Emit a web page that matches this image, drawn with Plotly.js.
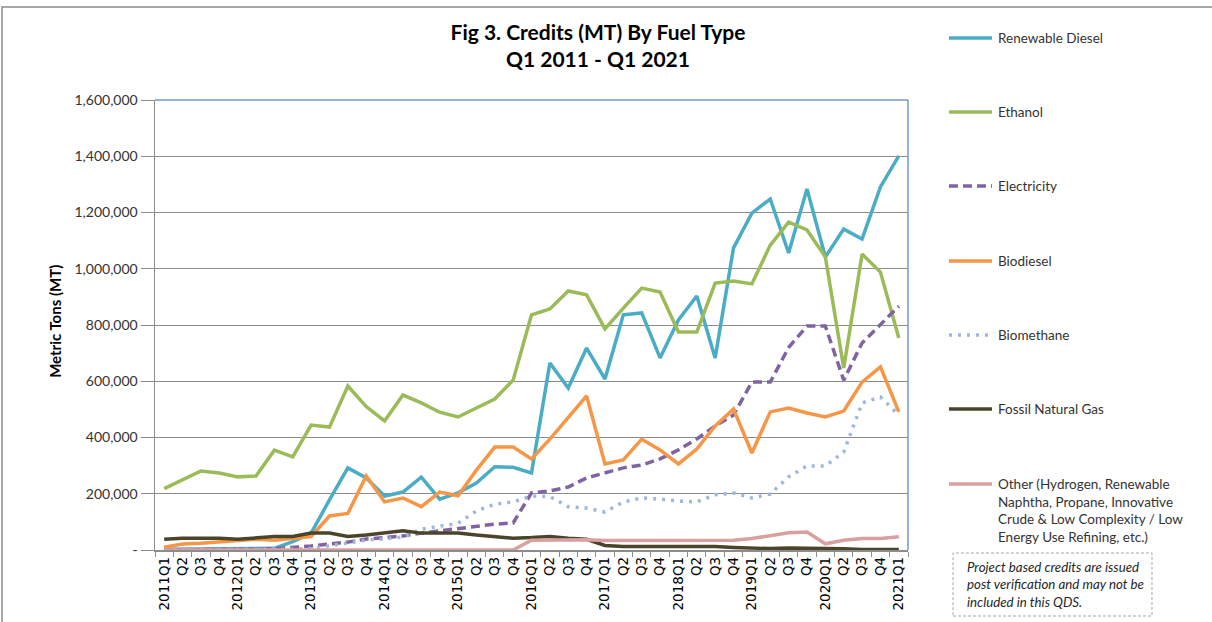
<!DOCTYPE html>
<html>
<head>
<meta charset="utf-8">
<script src="https://cdn.plot.ly/plotly-3.0.1.min.js"></script>
<style>html,body{margin:0;padding:0;background:#fff;}#chart{width:1212px;height:622px;}</style>
</head>
<body>
<div id="chart"></div>
<script>
const quarters = ["2011Q1","Q2","Q3","Q4","2012Q1","Q2","Q3","Q4","2013Q1","Q2","Q3","Q4","2014Q1","Q2","Q3","Q4","2015Q1","Q2","Q3","Q4","2016Q1","Q2","Q3","Q4","2017Q1","Q2","Q3","Q4","2018Q1","Q2","Q3","Q4","2019Q1","Q2","Q3","Q4","2020Q1","Q2","Q3","Q4","2021Q1"];

// values in thousands of metric tons
const renewableDiesel = [3,3,3,3,4,4,6,30,60,178,292,256,192,206,259,181,203,238,296,294,274,665,576,718,608,836,843,683,818,903,683,1074,1198,1248,1056,1284,1042,1141,1106,1291,1401];
const ethanol = [218,249,281,274,260,263,355,331,444,437,583,510,459,551,523,490,473,505,537,604,836,857,921,907,786,860,931,917,775,775,949,956,946,1084,1166,1138,1042,647,1052,988,754];
const electricity = [0,0,1,1,2,3,5,9,14,21,28,39,43,50,60,68,74,81,92,96,203,210,224,256,274,292,302,324,356,395,441,480,597,597,720,796,796,604,736,800,867];
const biodiesel = [10,21,24,28,35,38,35,42,48,121,130,263,171,185,154,206,193,284,366,366,324,394,473,548,306,320,394,356,306,359,441,501,345,491,505,487,473,494,597,651,491];
const biomethane = [0,0,0,0,1,1,2,3,5,15,25,35,40,46,74,86,95,139,163,171,192,190,154,149,135,171,185,181,174,171,196,203,185,199,260,299,299,348,523,544,480];
const fossilNaturalGas = [38,42,42,42,38,42,48,48,60,60,48,53,60,68,60,60,60,53,48,42,44,48,42,38,16,12,12,12,12,14,12,9,7,5,7,7,4,4,2,2,2];
const other = [0,0,0,0,0,0,0,0,0,0,0,0,0,0,0,0,0,0,0,0,35,36,36,36,34,34,34,34,34,35,35,35,41,50,61,64,22,35,41,41,47];

const seriesNames = ["Renewable Diesel","Ethanol","Electricity","Biodiesel","Biomethane","Fossil Natural Gas","Other (Hydrogen, Renewable<br>Naphtha, Propane, Innovative<br>Crude &amp; Low Complexity / Low<br>Energy Use Refining, etc.)"];
const seriesData = [renewableDiesel, ethanol, electricity, biodiesel, biomethane, fossilNaturalGas, other];
const seriesColors = ["#4bacc6","#9bbb59","#8064a2","#f79646","#9fb7dc","#4a452a","#d9a0a0"];
const seriesDash = ["solid","solid","9px,5px","solid","3px,6px","solid","solid"];

const yTickVals = [0,200000,400000,600000,800000,1000000,1200000,1400000,1600000];
const yTickText = ["-","200,000","400,000","600,000","800,000","1,000,000","1,200,000","1,400,000","1,600,000"];

const xIdx = quarters.map((_, i) => i);

const traces = seriesData.map((d, k) => ({
  x: xIdx,
  y: d.map(v => v * 1000),
  type: "scatter",
  mode: "lines",
  name: seriesNames[k],
  line: {color: seriesColors[k], width: 3.5, dash: seriesDash[k]},
  showlegend: false,
  hoverinfo: "skip"
}));

const txtFont = {family: "Lato, 'Open Sans', sans-serif", size: 13.5, color: "#333"};
const shapes = [];
const annotations = [];

// outer chart border
shapes.push({type: "rect", xref: "paper", yref: "paper", x0: -0.2032, x1: 1.6, y0: -0.4, y1: 1.2067,
  line: {color: "#8c8c8c", width: 1.5}, layer: "below"});
// plot area border (top & right)
shapes.push({type: "line", xref: "paper", yref: "paper", x0: 0, x1: 1, y0: 1, y1: 1, line: {color: "#6f9ad3", width: 1.5}, layer: "above"});
shapes.push({type: "line", xref: "paper", yref: "paper", x0: 1, x1: 1, y0: 0, y1: 1, line: {color: "#6f9ad3", width: 1.5}, layer: "above"});

// legend (manual, to match wide spacing)
const legY = [1.1378, 0.9733, 0.8089, 0.6422, 0.4778, 0.3133, 0.1467];
for (let k = 0; k < seriesNames.length; k++) {
  shapes.push({type: "line", xref: "paper", yref: "paper", x0: 1.0544, x1: 1.1116, y0: legY[k], y1: legY[k],
    line: {color: seriesColors[k], width: 3.5, dash: seriesDash[k]}});
  annotations.push({xref: "paper", yref: "paper", x: 1.1169, y: legY[k], xanchor: "left",
    yanchor: k === 6 ? "top" : "middle", yshift: k === 6 ? 10 : 0,
    text: seriesNames[k], showarrow: false, align: "left", font: txtFont});
}

// note box
shapes.push({type: "rect", xref: "paper", yref: "paper", x0: 1.0598, x1: 1.3240, y0: -0.1467, y1: -0.0067,
  line: {color: "#a6a6a6", width: 1, dash: "3px,2px"}});
annotations.push({xref: "paper", yref: "paper", x: 1.0760, y: -0.0150, xanchor: "left", yanchor: "top",
  text: "<i>Project based credits are issued<br>post verification and may not be<br>included in this QDS.</i>",
  showarrow: false, align: "left", font: {family: "Lato, 'Open Sans', sans-serif", size: 13.3, color: "#262626"}});

// y axis title
annotations.push({xref: "paper", yref: "paper", x: -0.1328, y: 0.507, xanchor: "center", yanchor: "middle",
  text: "<b>Metric Tons (MT)</b>", textangle: -90, showarrow: false,
  font: {family: "Lato, 'Open Sans', sans-serif", size: 15, color: "#000"}});

const layout = {
  width: 1212, height: 622,
  margin: {l: 155, r: 304, t: 100, b: 72},
  paper_bgcolor: "#fff", plot_bgcolor: "#fff",
  title: {
    text: "<b>Fig 3. Credits (MT) By Fuel Type<br>Q1 2011 - Q1 2021</b>",
    x: 598/1212, xanchor: "center", y: 1 - 40/622, yanchor: "middle",
    font: {family: "Lato, 'Open Sans', sans-serif", size: 21, color: "#000"}
  },
  xaxis: {
    range: [-0.5, 40.5], tickmode: "array", tickvals: xIdx, ticktext: quarters,
    tickangle: -90, ticks: "", showgrid: false, zeroline: false,
    showline: true, linecolor: "#8c8c8c", linewidth: 1.5,
    tickfont: {family: "'DejaVu Sans', sans-serif", size: 13.5, color: "#000"},
    minor: {tickmode: "array", tickvals: xIdx.map(i => i - 0.5).concat([40.5]), ticks: "outside", ticklen: 5, tickcolor: "#8c8c8c", tickwidth: 1, showgrid: false},
    fixedrange: true
  },
  yaxis: {
    range: [0, 1600000], tickmode: "array", tickvals: yTickVals, ticktext: yTickText,
    ticks: "outside", ticklen: 13, tickcolor: "#8c8c8c", tickwidth: 1,
    showgrid: true, gridcolor: "#8c8c8c", gridwidth: 1, zeroline: false,
    showline: true, linecolor: "#8c8c8c", linewidth: 1.5,
    tickfont: {family: "Lato, 'Open Sans', sans-serif", size: 14, color: "#333"},
    fixedrange: true
  },
  shapes: shapes,
  annotations: annotations,
  showlegend: false
};

Plotly.newPlot("chart", traces, layout, {displayModeBar: false, staticPlot: true});
</script>
</body>
</html>
